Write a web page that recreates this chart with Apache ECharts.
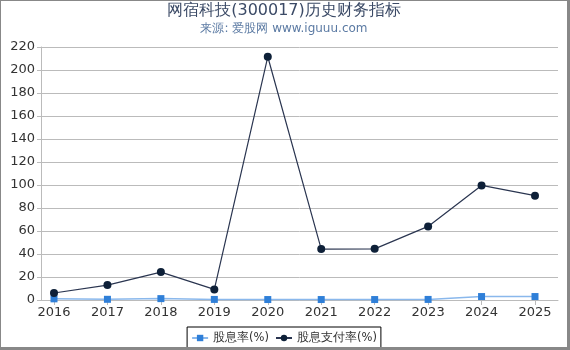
<!DOCTYPE html>
<html lang="zh">
<head>
    <meta charset="UTF-8">
    <title>网宿科技历史财务指标</title>
    <script src="https://cdn.jsdelivr.net/npm/echarts@6/dist/echarts.min.js"></script>
    <style type="text/css">
        html, body { margin: 0; padding: 0; background: #fff; }
        #main {
            width: 566px; height: 346px;
            border-left: 1px solid #888; border-top: 1px solid #888;
            border-right: 3px solid #888; border-bottom: 3px solid #888;
        }
    </style>
</head>
<body>
<div id="main"></div>
<script>
    // 数据
    var years = ['2016', '2017', '2018', '2019', '2020', '2021', '2022', '2023', '2024', '2025'];
    var dividendYield = [1.0, 0.6, 1.2, 0.5, 0.4, 0.4, 0.4, 0.5, 3.0, 3.0];
    var payoutRatio = [6.1, 13.0, 24.3, 9.2, 211.5, 44.3, 44.5, 64.0, 99.6, 90.7];
    var yTicks = [0, 20, 40, 60, 80, 100, 120, 140, 160, 180, 200, 220];

    var font = 'DejaVu Sans';
    var myChart = echarts.init(document.getElementById('main'));
    // grid 0: 背景网格和y轴; grid 1: 数据(两侧留白)
    var option = {
        animation: false,
        title: {
            text: '网宿科技(300017)历史财务指标',
            subtext: '来源: 爱股网 www.iguuu.com',
            left: 'center',
            top: -3,
            itemGap: 4,
            textStyle: { fontSize: 16, fontWeight: 'normal', color: '#3b4a66', fontFamily: font },
            subtextStyle: { fontSize: 12, color: '#5b7aa3', fontFamily: font }
        },
        legend: {
            bottom: -1,
            left: 'center',
            borderColor: '#000',
            borderWidth: 1,
            borderRadius: 0,
            padding: [5, 4, 4, 4],
            itemGap: 6,
            itemWidth: 16,
            itemHeight: 8,
            textStyle: { fontSize: 11.5, color: '#333', fontFamily: font },
            data: ['股息率(%)', '股息支付率(%)']
        },
        grid: [
            { left: 40, right: 9, top: 46, bottom: 47 },
            { left: 53, right: 32, top: 46, bottom: 47 }
        ],
        xAxis: [
            {
                gridIndex: 0,
                type: 'value',
                min: 0, max: 1,
                axisLine: { show: true, onZero: false, lineStyle: { color: '#bbb' } },
                axisTick: { show: false },
                axisLabel: { show: false },
                splitLine: { show: false }
            },
            {
                gridIndex: 1,
                type: 'category',
                data: years,
                boundaryGap: false,
                axisLine: { show: false },
                axisTick: { show: true, alignWithLabel: true, length: 5, lineStyle: { color: '#bbb' } },
                axisLabel: { color: '#333', fontSize: 13, margin: 6, fontFamily: font }
            }
        ],
        yAxis: [
            {
                gridIndex: 0,
                type: 'value',
                min: yTicks[0],
                max: yTicks[yTicks.length - 1],
                interval: 20,
                axisLine: { show: true, lineStyle: { color: '#bbb' } },
                axisTick: { show: true, length: 4, lineStyle: { color: '#bbb' } },
                splitLine: { lineStyle: { color: '#bbb' } },
                axisLabel: { color: '#333', fontSize: 13, margin: 6, fontFamily: font }
            },
            {
                gridIndex: 1,
                type: 'value',
                min: yTicks[0],
                max: yTicks[yTicks.length - 1],
                interval: 20,
                show: false
            }
        ],
        series: [
            {
                name: '股息率(%)',
                type: 'line',
                xAxisIndex: 1,
                yAxisIndex: 1,
                data: dividendYield,
                symbol: 'rect',
                symbolSize: 7,
                itemStyle: { color: '#2f7fd8' },
                lineStyle: { color: '#8ab8ec', width: 1.5 }
            },
            {
                name: '股息支付率(%)',
                type: 'line',
                xAxisIndex: 1,
                yAxisIndex: 1,
                data: payoutRatio,
                symbol: 'circle',
                symbolSize: 8,
                itemStyle: { color: '#0e2038' },
                lineStyle: { color: '#2a3550', width: 1.2 }
            }
        ]
    };
    myChart.setOption(option);
</script>
</body>
</html>
